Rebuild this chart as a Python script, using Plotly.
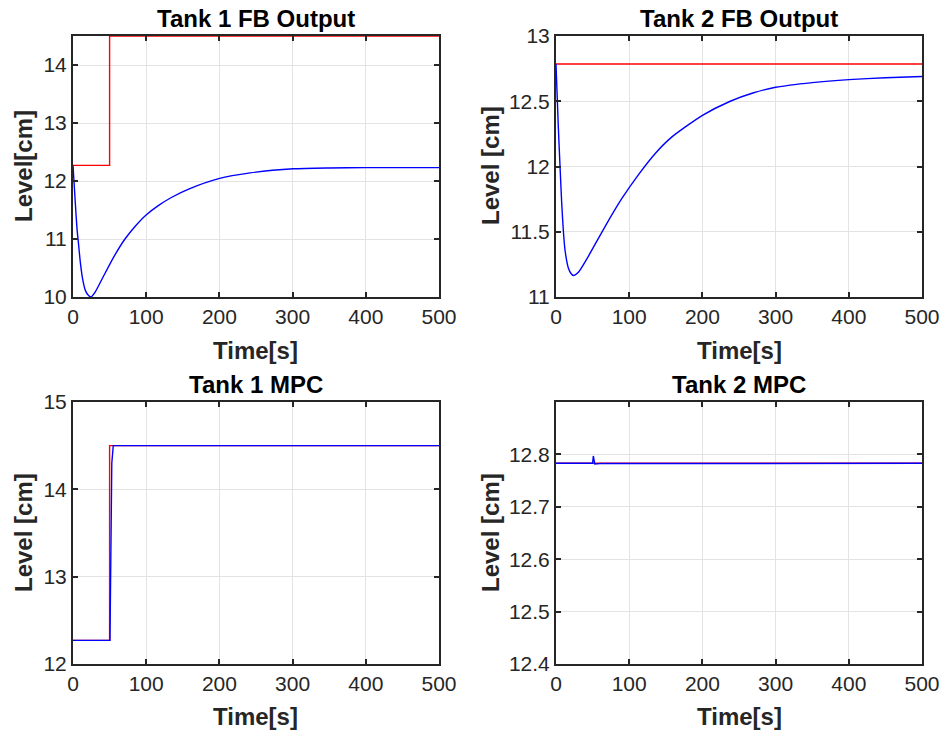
import plotly.graph_objects as go

# ---- Data ----
t1fb_ref_t = [0, 50, 50, 500]
t1fb_ref_y = [12.27, 12.27, 14.5, 14.5]
t1fb_t = [0, 3, 5.5, 7.5, 10, 13, 17, 21, 24.5, 30, 36, 43.8, 57.5, 71, 85, 99.5, 117, 135, 158, 199, 242, 301, 350, 400, 450, 500]
t1fb_y = [12.27, 11.65, 11.17, 10.92, 10.6, 10.32, 10.11, 10.03, 10.0, 10.08, 10.22, 10.41, 10.73, 11.0, 11.22, 11.41, 11.58, 11.72, 11.86, 12.04, 12.14, 12.21, 12.225, 12.23, 12.23, 12.23]

t2fb_ref_t = [0, 500]
t2fb_ref_y = [12.785, 12.785]
t2fb_t = [0, 3.2, 5.5, 7.8, 10, 12.3, 17, 20.5, 23.7, 30.6, 44, 67, 90, 113, 135.6, 158, 199.5, 238, 270, 300, 350, 400, 450, 500]
t2fb_y = [12.785, 12.3, 12.0, 11.72, 11.51, 11.36, 11.22, 11.18, 11.165, 11.19, 11.31, 11.54, 11.755, 11.94, 12.1, 12.225, 12.39, 12.5, 12.565, 12.607, 12.643, 12.666, 12.68, 12.69]

t1mpc_ref_t = [0, 50, 50, 500]
t1mpc_ref_y = [12.27, 12.27, 14.5, 14.5]
t1mpc_t = [0, 50.5, 53, 55, 500]
t1mpc_y = [12.27, 12.27, 14.3, 14.5, 14.5]

t2mpc_ref_t = [0, 500]
t2mpc_ref_y = [12.783, 12.783]
t2mpc_t = [0, 50, 51, 52, 53, 60, 500]
t2mpc_y = [12.783, 12.783, 12.797, 12.783, 12.7815, 12.7825, 12.783]

x_ticks = [0, 100, 200, 300, 400, 500]

# ---- Figure ----
fig = go.Figure()
RED = "#ff0000"
BLUE = "#0000ff"

panels = [
    ("x", "y", t1fb_ref_t, t1fb_ref_y, t1fb_t, t1fb_y, "spline"),
    ("x2", "y2", t2fb_ref_t, t2fb_ref_y, t2fb_t, t2fb_y, "spline"),
    ("x3", "y3", t1mpc_ref_t, t1mpc_ref_y, t1mpc_t, t1mpc_y, "linear"),
    ("x4", "y4", t2mpc_ref_t, t2mpc_ref_y, t2mpc_t, t2mpc_y, "linear"),
]
for xa, ya, rt, ry, bt, by, shp in panels:
    fig.add_trace(go.Scatter(x=rt, y=ry, mode="lines", line=dict(color=RED, width=1.4),
                             xaxis=xa, yaxis=ya, showlegend=False))
    bl = dict(color=BLUE, width=1.4, shape=shp)
    if shp == "spline":
        bl["smoothing"] = 0.6
    fig.add_trace(go.Scatter(x=bt, y=by, mode="lines", line=bl,
                             xaxis=xa, yaxis=ya, showlegend=False))

W, H = 947, 738

def px(x):
    return x / W

def py(y):
    return 1 - y / H

xdom_l = [px(73), px(439)]
xdom_r = [px(556), px(922)]
ydom_t = [py(297), py(36)]
ydom_b = [py(664), py(402)]

font_tick = dict(family="Liberation Sans, Arial, sans-serif", size=21, color="#262626")

common = dict(ticks="inside", ticklen=5, tickwidth=2, tickcolor="#262626", showline=True,
              linecolor="#262626", linewidth=2, mirror="allticks", showgrid=True,
              gridcolor="#e3e3e3", gridwidth=1, zeroline=False, tickfont=font_tick,
              automargin=False, ticklabeloverflow="allow")

def xaxis(dom, anchor):
    return dict(domain=dom, anchor=anchor, range=[0, 500], tickvals=x_ticks, **common)

def yaxis(dom, anchor, rng, tv, tt):
    return dict(domain=dom, anchor=anchor, range=rng, tickvals=tv, ticktext=tt, **common)

fig.update_layout(
    width=W, height=H, margin=dict(l=0, r=0, t=0, b=0, autoexpand=False),
    paper_bgcolor="white", plot_bgcolor="white",
    xaxis=xaxis(xdom_l, "y"),
    yaxis=yaxis(ydom_t, "x", [10, 14.5], [10, 11, 12, 13, 14], ["10", "11", "12", "13", "14"]),
    xaxis2=xaxis(xdom_r, "y2"),
    yaxis2=yaxis(ydom_t, "x2", [11, 13], [11, 11.5, 12, 12.5, 13], ["11", "11.5", "12", "12.5", "13"]),
    xaxis3=xaxis(xdom_l, "y3"),
    yaxis3=yaxis(ydom_b, "x3", [12, 15], [12, 13, 14, 15], ["12", "13", "14", "15"]),
    xaxis4=xaxis(xdom_r, "y4"),
    yaxis4=yaxis(ydom_b, "x4", [12.4, 12.9], [12.4, 12.5, 12.6, 12.7, 12.8], ["12.4", "12.5", "12.6", "12.7", "12.8"]),
)

bold = dict(family="Liberation Sans, Arial, sans-serif", size=24, color="#000000")
bold_lbl = dict(family="Liberation Sans, Arial, sans-serif", size=24, color="#262626")

def ann(text, x, y, font, angle=0):
    fig.add_annotation(text=text, x=px(x), y=py(y), xref="paper", yref="paper",
                       showarrow=False, font=font, textangle=angle, xanchor="center", yanchor="middle")

ann("<b>Tank 1 FB Output</b>", 256, 18, bold)
ann("<b>Tank 2 FB Output</b>", 739, 18, bold)
ann("<b>Tank 1 MPC</b>", 256, 384, bold)
ann("<b>Tank 2 MPC</b>", 739, 384, bold)

ann("<b>Time[s]</b>", 256, 350, bold_lbl)
ann("<b>Time[s]</b>", 739, 350, bold_lbl)
ann("<b>Time[s]</b>", 256, 716, bold_lbl)
ann("<b>Time[s]</b>", 739, 716, bold_lbl)

ann("<b>Level[cm]</b>", 23, 166, bold_lbl, -90)
ann("<b>Level [cm]</b>", 490, 166, bold_lbl, -90)
ann("<b>Level [cm]</b>", 23, 533, bold_lbl, -90)
ann("<b>Level [cm]</b>", 490, 533, bold_lbl, -90)

fig.write_html("out.html", config={"displayModeBar": False},
               post_script="document.body.style.margin='0';document.body.style.overflow='hidden';")
